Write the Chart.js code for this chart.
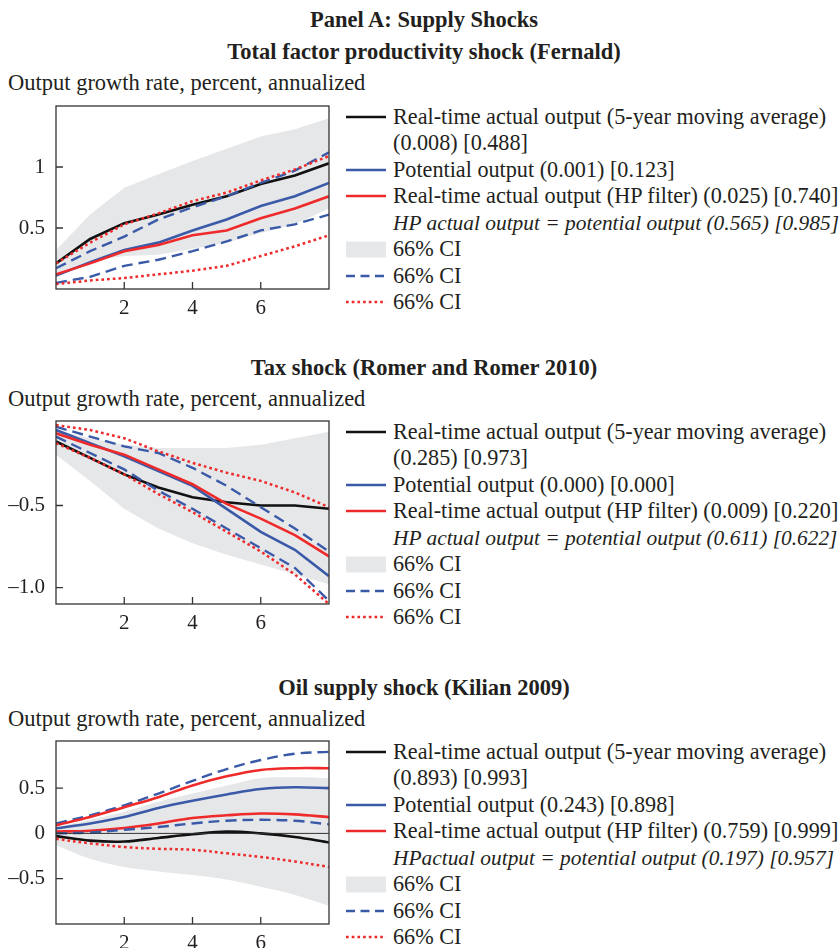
<!DOCTYPE html>
<html>
<head>
<meta charset="utf-8">
<script src="https://cdn.jsdelivr.net/npm/chart.js@4.4.1/dist/chart.umd.min.js"></script>
<style>
  body { margin: 0; background: #fff; }
  #page { position: relative; width: 840px; height: 948px; font-family: "Liberation Serif", "Times New Roman", serif; color: #231f20; }
  .txt { position: absolute; font-size: 22.5px; line-height: 1; white-space: nowrap; }
  .ttl { left: 0; width: 848px; text-align: center; font-weight: bold; }
  .ylab { left: 8px; }
  .plot { position: absolute; left: 0; }
  .leg { position: absolute; left: 346px; font-size: 22.2px; }
  .leg .row { position: relative; height: 26.45px; line-height: 26.45px; white-space: nowrap; }
  .leg svg { position: absolute; left: 0; top: 0; }
  .leg span { position: absolute; left: 47px; top: 0; }
  .leg .it { font-style: italic; font-size: 21.4px; }
</style>
</head>
<body>
<div id="page">
  <div class="txt ttl" style="top:9.2px">Panel A: Supply Shocks</div>
</div>
<script>
// horizon (years after shock) and tick labels
const horizon = [0, 1, 2, 3, 4, 5, 6, 7, 8];
const xTicks = [2, 4, 6];

// Total factor productivity shock (Fernald)
const tfpMovingAvg = [0.21, 0.41, 0.54, 0.61, 0.69, 0.76, 0.86, 0.93, 1.03];
const tfpBandHi    = [0.32, 0.61, 0.83, 0.94, 1.05, 1.15, 1.25, 1.31, 1.40];
const tfpBandLo    = [0.13, 0.23, 0.27, 0.28, 0.33, 0.38, 0.46, 0.53, 0.66];
const tfpPotential = [0.11, 0.22, 0.32, 0.38, 0.48, 0.57, 0.68, 0.76, 0.87];
const tfpPotHi     = [0.17, 0.31, 0.43, 0.57, 0.67, 0.76, 0.87, 0.97, 1.12];
const tfpPotLo     = [0.05, 0.10, 0.19, 0.24, 0.31, 0.39, 0.48, 0.53, 0.61];
const tfpHP        = [0.12, 0.21, 0.31, 0.36, 0.44, 0.48, 0.58, 0.66, 0.76];
const tfpHPHi      = [0.21, 0.38, 0.53, 0.62, 0.72, 0.79, 0.89, 0.98, 1.09];
const tfpHPLo      = [0.04, 0.07, 0.09, 0.12, 0.15, 0.19, 0.27, 0.35, 0.44];
const tfpYTicks  = [0.5, 1];
const tfpYLabels = ['0.5', '1'];
const tfpLegend  = ['(0.008) [0.488]', 'Potential output (0.001) [0.123]',
  'Real-time actual output (HP filter) (0.025) [0.740]',
  'HP actual output = potential output (0.565) [0.985]'];

// Tax shock (Romer and Romer 2010)
const taxMovingAvg = [-0.11, -0.21, -0.31, -0.39, -0.45, -0.48, -0.50, -0.50, -0.52];
const taxBandHi    = [-0.04, -0.09, -0.13, -0.15, -0.15, -0.15, -0.13, -0.09, -0.05];
const taxBandLo    = [-0.19, -0.35, -0.52, -0.64, -0.73, -0.80, -0.86, -0.92, -0.98];
const taxPotential = [-0.04, -0.12, -0.20, -0.29, -0.38, -0.52, -0.66, -0.77, -0.93];
const taxPotHi     = [-0.02, -0.08, -0.14, -0.18, -0.27, -0.38, -0.51, -0.64, -0.78];
const taxPotLo     = [-0.08, -0.18, -0.28, -0.41, -0.52, -0.64, -0.76, -0.88, -1.08];
const taxHP        = [-0.06, -0.13, -0.19, -0.28, -0.37, -0.49, -0.58, -0.68, -0.81];
const taxHPHi      = [-0.01, -0.04, -0.09, -0.17, -0.24, -0.30, -0.35, -0.42, -0.51];
const taxHPLo      = [-0.12, -0.21, -0.31, -0.43, -0.54, -0.66, -0.78, -0.92, -1.10];
const taxYTicks  = [-1.0, -0.5];
const taxYLabels = ['\u20131.0', '\u20130.5'];
const taxLegend  = ['(0.285) [0.973]', 'Potential output (0.000) [0.000]',
  'Real-time actual output (HP filter) (0.009) [0.220]',
  'HP actual output = potential output (0.611) [0.622]'];

// Oil supply shock (Kilian 2009)
const oilMovingAvg = [-0.03, -0.08, -0.09, -0.05, -0.01, 0.02, 0.00, -0.04, -0.10];
const oilBandHi    = [0.07, 0.15, 0.24, 0.35, 0.44, 0.53, 0.61, 0.62, 0.61];
const oilBandLo    = [-0.13, -0.28, -0.37, -0.42, -0.46, -0.51, -0.59, -0.68, -0.80];
const oilPotential = [0.055, 0.11, 0.18, 0.28, 0.36, 0.43, 0.49, 0.51, 0.50];
const oilPotHi     = [0.11, 0.20, 0.31, 0.44, 0.58, 0.71, 0.81, 0.88, 0.90];
const oilPotLo     = [0.00, 0.01, 0.04, 0.07, 0.11, 0.14, 0.15, 0.14, 0.10];
const oilHP        = [0.02, 0.03, 0.06, 0.11, 0.17, 0.20, 0.22, 0.21, 0.18];
const oilHPHi      = [0.09, 0.18, 0.29, 0.40, 0.53, 0.63, 0.70, 0.72, 0.72];
const oilHPLo      = [-0.06, -0.11, -0.15, -0.17, -0.18, -0.22, -0.26, -0.31, -0.37];
const oilYTicks  = [-0.5, 0, 0.5];
const oilYLabels = ['\u20130.5', '0', '0.5'];
const oilLegend  = ['(0.893) [0.993]', 'Potential output (0.243) [0.898]',
  'Real-time actual output (HP filter) (0.759) [0.999]',
  'HPactual output = potential output (0.197) [0.957]'];

const BLACK = '#111111', BLUE = '#3a5aa8', RED = '#ee2a2a', GREY = '#e6e7e9';
const DASH = [11, 6], DOT = [2.7, 3];

const panels = [
  { title: 'Total factor productivity shock (Fernald)', top: 106, min: 0, max: 1.5,
    ma: tfpMovingAvg, bandHi: tfpBandHi, bandLo: tfpBandLo, pot: tfpPotential, potHi: tfpPotHi, potLo: tfpPotLo,
    hp: tfpHP, hpHi: tfpHPHi, hpLo: tfpHPLo, yTicks: tfpYTicks, yLabels: tfpYLabels, legend: tfpLegend,
    tension: 0, hpHiSolid: false, zeroLine: false },
  { title: 'Tax shock (Romer and Romer 2010)', top: 421, min: -1.1, max: 0.015,
    ma: taxMovingAvg, bandHi: taxBandHi, bandLo: taxBandLo, pot: taxPotential, potHi: taxPotHi, potLo: taxPotLo,
    hp: taxHP, hpHi: taxHPHi, hpLo: taxHPLo, yTicks: taxYTicks, yLabels: taxYLabels, legend: taxLegend,
    tension: 0, hpHiSolid: false, zeroLine: false },
  { title: 'Oil supply shock (Kilian 2009)', top: 741, min: -1, max: 1.02,
    ma: oilMovingAvg, bandHi: oilBandHi, bandLo: oilBandLo, pot: oilPotential, potHi: oilPotHi, potLo: oilPotLo,
    hp: oilHP, hpHi: oilHPHi, hpLo: oilHPLo, yTicks: oilYTicks, yLabels: oilYLabels, legend: oilLegend,
    tension: 0.35, hpHiSolid: true, zeroLine: true }
];

// box around the plot, inward ticks, optional zero line
const framePlugin = {
  id: 'frame',
  afterDatasetsDraw(chart, args, opts) {
    const { ctx, chartArea: a, scales: { x, y } } = chart;
    ctx.save();
    ctx.strokeStyle = '#333';
    if (opts.zeroLine) {
      const y0 = y.getPixelForValue(0);
      ctx.lineWidth = 1;
      ctx.beginPath(); ctx.moveTo(a.left, y0); ctx.lineTo(a.right, y0); ctx.stroke();
    }
    ctx.lineWidth = 1.3;
    ctx.strokeRect(a.left, a.top, a.width, a.height);
    ctx.beginPath();
    y.ticks.forEach(t => {
      const py = y.getPixelForValue(t.value);
      ctx.moveTo(a.left, py); ctx.lineTo(a.left + 7, py);
    });
    x.ticks.forEach(t => {
      const px = x.getPixelForValue(t.value);
      ctx.moveTo(px, a.bottom); ctx.lineTo(px, a.bottom - 7);
    });
    ctx.stroke();
    ctx.restore();
  }
};

const pts = arr => arr.map((v, i) => ({ x: horizon[i], y: v }));

function line(data, color, dash, width, tension) {
  return { data: pts(data), borderColor: color, borderDash: dash, borderWidth: width,
    pointRadius: 0, fill: false, tension: tension, order: 0 };
}

function swatch(kind) {
  if (kind === 'box') return '<svg width="40" height="26"><rect x="0" y="5.5" width="40" height="16" fill="' + GREY + '"/></svg>';
  const c = kind === 'black' ? BLACK : (kind === 'red' || kind === 'dot') ? RED : BLUE;
  const d = kind === 'dash' ? ' stroke-dasharray="9 5.5"' : kind === 'dot' ? ' stroke-dasharray="2.7 3"' : '';
  return '<svg width="40" height="26"><line x1="0" y1="13" x2="40" y2="13" stroke="' + c + '" stroke-width="2.5"' + d + '/></svg>';
}

const page = document.getElementById('page');

panels.forEach((p, k) => {
  const titleTop = p.top - 65 + (k > 0 ? 1 : 0);
  const ylabTop = p.top - 34 + (k > 0 ? 1 : 0);
  page.insertAdjacentHTML('beforeend',
    '<div class="txt ttl" style="top:' + titleTop + 'px">' + p.title + '</div>' +
    '<div class="txt ylab" style="top:' + ylabTop + 'px">Output growth rate, percent, annualized</div>');

  // legend
  const rows = [
    ['black', 'Real-time actual output (5-year moving average)', ''],
    ['', p.legend[0], ''],
    ['blue', p.legend[1], ''],
    ['red', p.legend[2], ''],
    ['', p.legend[3], 'it'],
    ['box', '66% CI', ''],
    ['dash', '66% CI', ''],
    ['dot', '66% CI', '']
  ];
  let html = '<div class="leg" style="top:' + (p.top - 2) + 'px">';
  rows.forEach(r => {
    html += '<div class="row">' + (r[0] ? swatch(r[0]) : '') + '<span class="' + r[2] + '">' + r[1] + '</span></div>';
  });
  html += '</div>';
  page.insertAdjacentHTML('beforeend', html);

  // chart canvas
  const cv = document.createElement('canvas');
  cv.className = 'plot';
  cv.width = 340; cv.height = 233;
  cv.style.top = (p.top - 10) + 'px';
  page.appendChild(cv);

  const t = p.tension;
  new Chart(cv.getContext('2d'), {
    type: 'line',
    data: {
      datasets: [
        line(p.hpHi, RED, p.hpHiSolid ? [] : DOT, p.hpHiSolid ? 2.6 : 2.5, t),
        line(p.hpLo, RED, DOT, 2.5, t),
        line(p.potHi, BLUE, DASH, 2.4, t),
        line(p.potLo, BLUE, DASH, 2.4, t),
        line(p.hp, RED, [], 2.6, t),
        line(p.pot, BLUE, [], 2.6, t),
        line(p.ma, BLACK, [], 2.6, t),
        { data: pts(p.bandHi), borderWidth: 0, pointRadius: 0, fill: false, tension: t, order: 10 },
        { data: pts(p.bandLo), borderWidth: 0, pointRadius: 0, fill: '-1', backgroundColor: GREY, tension: t, order: 10 }
      ]
    },
    options: {
      responsive: false,
      animation: false,
      events: [],
      layout: { padding: { top: 10, right: 11, left: 0, bottom: 0 } },
      plugins: { legend: { display: false }, tooltip: { enabled: false }, frame: { zeroLine: p.zeroLine } },
      scales: {
        x: {
          type: 'linear', min: 0, max: 8,
          grid: { display: false, drawTicks: false, tickLength: 0 },
          border: { display: false },
          afterBuildTicks: s => { s.ticks = xTicks.map(v => ({ value: v })); },
          afterFit: s => { s.height = 40; s.paddingLeft = 0; s.paddingRight = 0; },
          ticks: { padding: 7, color: '#231f20', font: { family: 'Liberation Serif', size: 21 } }
        },
        y: {
          type: 'linear', min: p.min, max: p.max,
          grid: { display: false, drawTicks: false, tickLength: 0 },
          border: { display: false },
          afterBuildTicks: s => { s.ticks = p.yTicks.map(v => ({ value: v })); },
          afterFit: s => { s.width = 56; s.paddingTop = 0; s.paddingBottom = 0; },
          ticks: { padding: 11, color: '#231f20', font: { family: 'Liberation Serif', size: 21 },
            callback: v => p.yLabels[p.yTicks.indexOf(v)] }
        }
      }
    },
    plugins: [framePlugin]
  });
});
</script>
</body>
</html>
